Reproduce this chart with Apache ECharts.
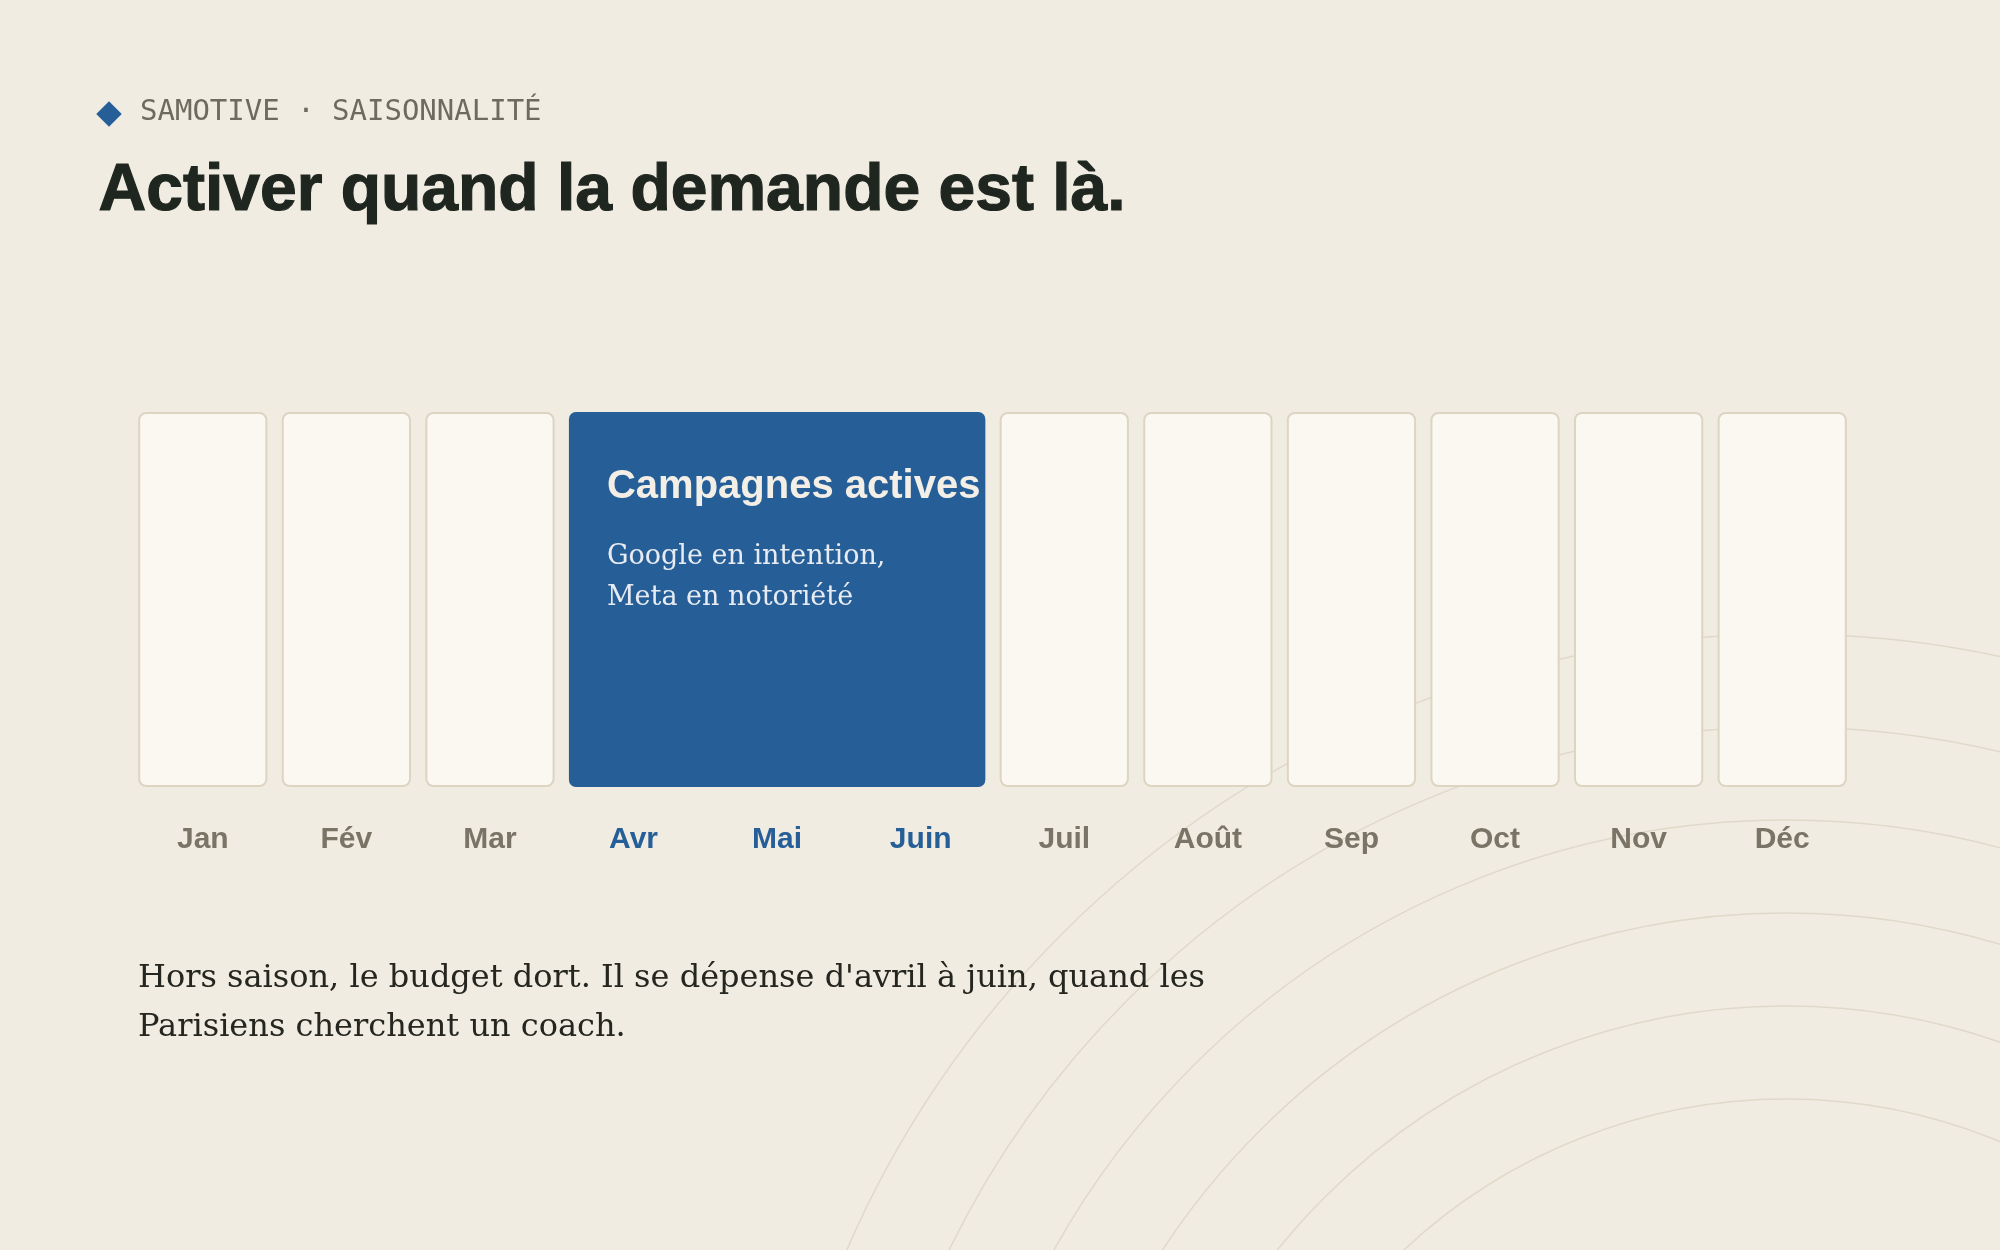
<!DOCTYPE html>
<html><head><meta charset="utf-8">
<script src="https://cdn.jsdelivr.net/npm/echarts@6/dist/echarts.min.js"></script>
<style>html,body{margin:0;padding:0;background:#f0ece2}#c{width:2000px;height:1250px}</style>
</head><body><div id="c"></div>
<script>
const months = ['Jan','Fév','Mar','Avr','Mai','Juin','Juil','Août','Sep','Oct','Nov','Déc'];
const cellValues = [1,1,1,1,1,1,1,1,1,1,1,1];
const activeRange = [3,5];
const activeTitle = 'Campagnes actives';
const activeText = 'Google en intention,\nMeta en notoriété';
const kicker = 'SAMOTIVE · SAISONNALITÉ';
const title = 'Activer quand la demande est là.';
const footer = "Hors saison, le budget dort. Il se dépense d'avril à juin, quand les\nParisiens cherchent un coach.";

const BLUE = '#265f98';
const chart = echarts.init(document.getElementById('c'));
const circles = [559,652,745,838,931,1024].map(r => ({
  type:'circle', shape:{cx:1786, cy:1658, r:r}, silent:true, z:-10,
  style:{fill:null, stroke:'#e0d9ca', lineWidth:1.5}
}));
chart.setOption({
  backgroundColor:'#f0ece2',
  animation:false,
  graphic: circles.concat([
    {type:'rect', shape:{x:-9,y:-9,width:18,height:18}, x:109, y:114, rotation:Math.PI/4, style:{fill:BLUE}},
    {type:'text', left:140, top:98, style:{text:kicker, font:'29px "DejaVu Sans Mono"', fill:'#6f6a5e'}},
    {type:'text', left:98, top:158, style:{text:title, font:'bold 66px "Liberation Sans"', fill:'#1f261f', letterSpacing:-3.3, stroke:'#1f261f', lineWidth:1.2}},
    {type:'text', left:138, top:954, style:{text:footer, font:'32px "DejaVu Serif"', fill:'#25261f', lineHeight:49, letterSpacing:-0.8}}
  ]),
  grid:{left:131, width:1723, top:412, height:375},
  xAxis:{type:'category', data:months, axisLine:{show:false}, axisTick:{show:false},
    axisLabel:{margin:38, fontSize:30, fontFamily:'Liberation Sans', fontWeight:'bold',
      color:(v,i)=> (i>=activeRange[0] && i<=activeRange[1]) ? BLUE : '#7a7466'}},
  yAxis:{type:'value', min:0, max:1, show:false},
  series:[
    {type:'bar', data:cellValues, barWidth:'90%', silent:true,
      itemStyle:{color:'#fbf8f1', borderColor:'#ddd4c2', borderWidth:2, borderRadius:7}},
    {type:'custom', data:[activeRange], silent:true, z:5,
      renderItem:(params, api)=>{
        const a = api.coord([api.value(0), 1]);
        const b = api.coord([api.value(1), 0]);
        const bw = api.size([1,0])[0];
        const cw = bw*0.9;
        const x0 = a[0]-cw/2, x1 = b[0]+cw/2;
        return {type:'group', children:[
          {type:'rect', shape:{x:x0, y:a[1], width:x1-x0, height:b[1]-a[1], r:7}, style:{fill:BLUE}},
          {type:'text', x:x0+38, y:a[1]+55, style:{text:activeTitle, font:'bold 40px "Liberation Sans"', fill:'#f3efe6', letterSpacing:-0.6}},
          {type:'text', x:x0+38, y:a[1]+124, style:{text:activeText, font:'27px "DejaVu Serif"', fill:'#e8ecf2', lineHeight:41, letterSpacing:-0.5}}
        ]};
      }}
  ]
});
</script></body></html>
